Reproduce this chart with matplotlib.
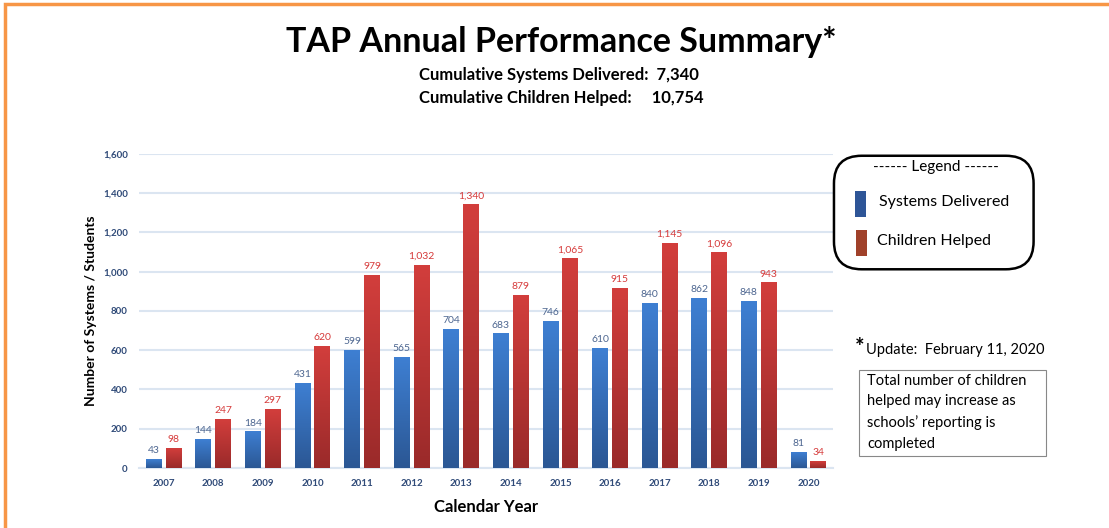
import matplotlib.pyplot as plt
import numpy as np
from matplotlib.colors import LinearSegmentedColormap
from matplotlib.patches import FancyBboxPatch, Rectangle

plt.rcParams["font.family"] = ["Lato", "DejaVu Sans"]

years = ["2007", "2008", "2009", "2010", "2011", "2012", "2013",
         "2014", "2015", "2016", "2017", "2018", "2019", "2020"]
systems = [43, 144, 184, 431, 599, 565, 704, 683, 746, 610, 840, 862, 848, 81]
children = [98, 247, 297, 620, 979, 1032, 1340, 879, 1065, 915, 1145, 1096, 943, 34]

fig = plt.figure(figsize=(11.09, 5.28), dpi=100)
ax = fig.add_axes([0.1253, 0.1136, 0.626, 0.595])

x = np.arange(len(years))
w = 0.32
blue_cmap = LinearSegmentedColormap.from_list("b", ["#2b5794", "#3e7fd2"])
red_cmap = LinearSegmentedColormap.from_list("r", ["#9a2a2a", "#d23e3c"])
grad = np.linspace(0, 1, 100).reshape(-1, 1)

bars_b = ax.bar(x - 0.2, systems, w, color="#3a72c0", zorder=2)
bars_r = ax.bar(x + 0.2, children, w, color="#c03535", zorder=2)

for bars, cmap in ((bars_b, blue_cmap), (bars_r, red_cmap)):
    for b in bars:
        x0, h = b.get_x(), b.get_height()
        ax.imshow(grad, cmap=cmap, origin="lower", aspect="auto", zorder=3,
                  extent=[x0, x0 + b.get_width(), 0, h])

for i in range(len(years)):
    ax.text(x[i] - 0.2, systems[i] + 22, f"{systems[i]:,}", ha="center", va="bottom",
            fontsize=7.5, color="#4d6690")
    ax.text(x[i] + 0.2, children[i] + 22, f"{children[i]:,}", ha="center", va="bottom",
            fontsize=7.5, color="#d63a3a")

ax.set_xlim(-0.5, len(years) - 0.5)
ax.set_ylim(0, 1600)
ax.set_yticks(range(0, 1601, 200))
ax.set_yticklabels([f"{v:,}" for v in range(0, 1601, 200)])
ax.set_xticks(x)
ax.set_xticklabels(years)
for lab in ax.get_xticklabels() + ax.get_yticklabels():
    lab.set_fontweight("bold")
    lab.set_fontsize(7)
    lab.set_color("#2f4a78")
ax.tick_params(length=0, pad=8)
ax.grid(axis="y", color="#dbe5f1", lw=1.5, zorder=0)
for s in ["top", "right", "left"]:
    ax.spines[s].set_visible(False)
ax.spines["bottom"].set_color("#dbe5f1")
ax.spines["bottom"].set_linewidth(1.5)

ax.set_ylabel("Number of Systems / Students", fontsize=10, fontweight="bold", labelpad=4)
ax.set_xlabel("Calendar Year", fontsize=12, fontweight="bold", labelpad=8)

fig.text(0.506, 0.92, "TAP Annual Performance Summary*", ha="center", va="center",
         fontsize=24.5, fontweight="bold")
fig.text(0.378, 0.858, "Cumulative Systems Delivered:  7,340", ha="left", va="center",
         fontsize=12, fontweight="bold")
fig.text(0.378, 0.815, "Cumulative Children Helped:     10,754", ha="left", va="center",
         fontsize=12, fontweight="bold")

# legend box
fig.patches.append(FancyBboxPatch((0.752, 0.49), 0.18, 0.215, boxstyle="round,pad=0,rounding_size=0.025",
                                  transform=fig.transFigure, fill=False, ec="black", lw=1.8,
                                  mutation_aspect=2.1))
fig.text(0.844, 0.683, "------ Legend ------", ha="center", va="center", fontsize=11)
fig.patches.append(Rectangle((0.771, 0.589), 0.0095, 0.05, transform=fig.transFigure,
                             fc="#2e5597", ec="none"))
fig.patches.append(Rectangle((0.772, 0.515), 0.0095, 0.05, transform=fig.transFigure,
                             fc="#a0412a", ec="none"))
fig.text(0.793, 0.617, "Systems Delivered", ha="left", va="center", fontsize=11.5)
fig.text(0.791, 0.543, "Children Helped", ha="left", va="center", fontsize=11.5)

fig.text(0.771, 0.342, "*", ha="left", va="center", fontsize=16, fontweight="bold")
fig.text(0.781, 0.338, "Update:  February 11, 2020", ha="left", va="center", fontsize=10.5)
fig.patches.append(Rectangle((0.775, 0.137), 0.168, 0.163, transform=fig.transFigure,
                             fill=False, ec="#888888", lw=0.8))
fig.text(0.782, 0.292, "Total number of children\nhelped may increase as\nschools\u2019 reporting is\ncompleted",
         ha="left", va="top", fontsize=10.5, linespacing=1.6)

# orange frame
fig.patches.append(Rectangle((0.0045, -0.1), 1.2, 1.092, transform=fig.transFigure,
                             fill=False, ec="#f79646", lw=2.5))

fig.savefig("out.png", dpi=100)
